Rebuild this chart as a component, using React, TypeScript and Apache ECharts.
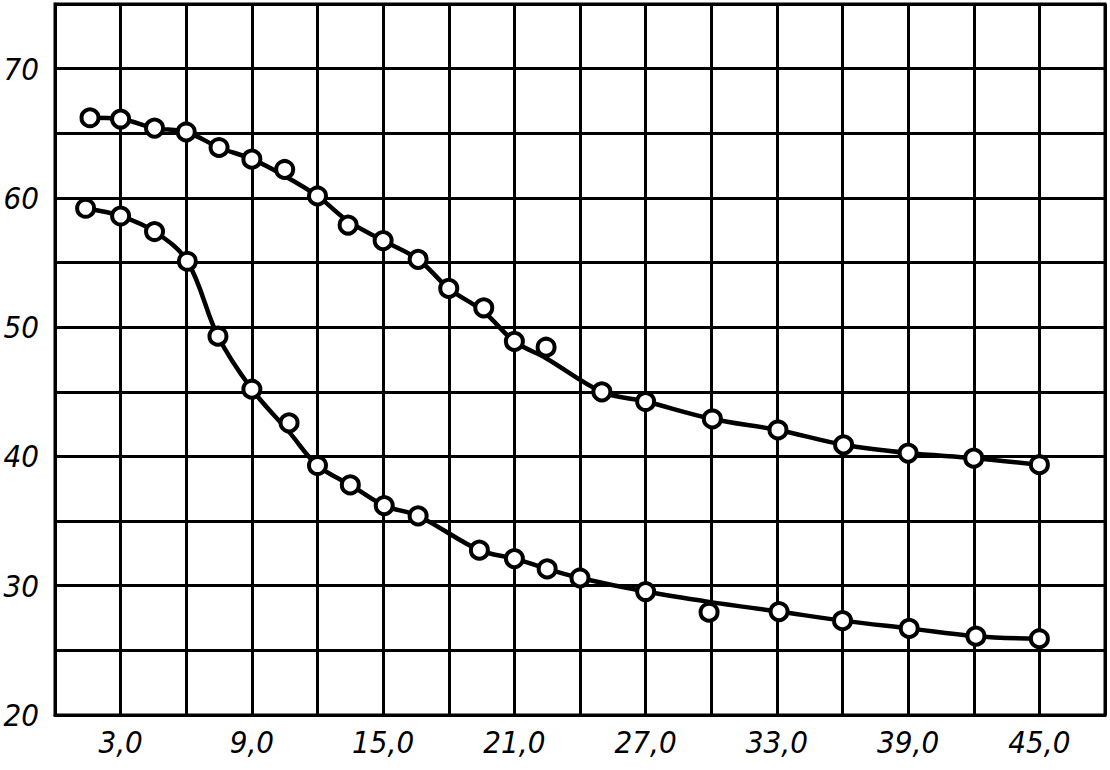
import React, { useEffect, useRef } from "react";
import * as echarts from "echarts";

// Measured points (markers)
const upperX = [1.6, 3.0, 4.55, 6.0, 7.5, 9.0, 10.5, 12.0, 13.4, 15.0, 16.6, 18.0, 19.6, 21.0, 22.45, 25.0, 27.0, 30.05, 33.05, 36.05, 39.0, 42.0, 45.0];
const upperY = [66.2, 66.1, 65.4, 65.1, 63.9, 63.0, 62.2, 60.15, 57.9, 56.7, 55.25, 53.0, 51.5, 48.9, 48.45, 45.0, 44.25, 42.9, 42.05, 40.9, 40.26, 39.87, 39.36];

const lowerX = [1.4, 3.0, 4.55, 6.05, 7.45, 9.0, 10.7, 12.0, 13.5, 15.05, 16.6, 19.4, 21.0, 22.5, 24.0, 27.0, 29.9, 33.1, 36.0, 39.05, 42.1, 45.0];
const lowerY = [59.2, 58.6, 57.4, 55.1, 49.3, 45.2, 42.6, 39.3, 37.8, 36.2, 35.4, 32.75, 32.1, 31.3, 30.6, 29.55, 27.95, 28.0, 27.3, 26.7, 26.1, 25.9];

// Nodes of the drawn (fitted) curves
const upperCurveX = [1.6, 3.0, 4.55, 6.0, 7.5, 9.0, 10.5, 12.0, 13.4, 15.0, 16.6, 18.0, 19.6, 21.0, 22.45, 25.0, 27.0, 30.05, 33.05, 36.05, 39.0, 42.0, 45.0];
const upperCurveY = [66.2, 66.1, 65.4, 65.1, 63.9, 63.0, 61.7, 60.15, 58.2, 56.7, 55.25, 53.0, 51.2, 48.9, 47.6, 45.0, 44.25, 42.9, 42.05, 40.9, 40.26, 39.87, 39.36];

const lowerCurveX = [1.4, 3.0, 4.55, 6.05, 7.45, 9.0, 10.7, 12.0, 13.5, 15.05, 16.6, 19.4, 21.0, 22.5, 24.0, 27.0, 29.9, 33.1, 36.0, 39.05, 42.1, 45.0];
const lowerCurveY = [59.2, 58.6, 57.4, 55.1, 49.3, 45.2, 41.9, 39.3, 37.8, 36.2, 35.4, 32.75, 32.1, 31.3, 30.6, 29.55, 28.75, 28.0, 27.3, 26.7, 26.1, 25.9];

// Tick labels
const xLabelValues = [3, 9, 15, 21, 27, 33, 39, 45];
const xLabelTexts = ["3,0", "9,0", "15,0", "21,0", "27,0", "33,0", "39,0", "45,0"];
const yLabelValues = [20, 30, 40, 50, 60, 70];
const yLabelTexts = ["20", "30", "40", "50", "60", "70"];

const zip = (xs: number[], ys: number[]) => xs.map((x, i) => [x, ys[i]]);

const FONT = "'DejaVu Sans Condensed', 'DejaVu Sans', sans-serif";

export default function App() {
  const ref = useRef<HTMLDivElement>(null);
  useEffect(() => {
    if (!ref.current) return;
    const chart = echarts.init(ref.current, null, { renderer: "svg" });
    const lineStyle = { color: "#000", width: 4.5 };
    const markerStyle = { color: "#fff", borderColor: "#000", borderWidth: 4, opacity: 1 };
    chart.setOption({
      animation: false,
      backgroundColor: "#fff",
      grid: {
        left: 55,
        right: 5,
        top: 4,
        bottom: 55,
        show: true,
        borderColor: "#000",
        borderWidth: 3,
        backgroundColor: "transparent",
      },
      xAxis: {
        type: "value",
        min: 0,
        max: 48,
        interval: 3,
        axisLine: { show: true, lineStyle: { color: "#000", width: 3 } },
        axisTick: { show: false },
        splitLine: { show: true, lineStyle: { color: "#000", width: 3 } },
        axisLabel: {
          margin: 11,
          color: "#000",
          fontSize: 31,
          fontStyle: "italic",
          fontFamily: FONT,
          formatter: (v: number) => {
            const i = xLabelValues.indexOf(v);
            return i >= 0 ? xLabelTexts[i] : "";
          },
        },
      },
      yAxis: {
        type: "value",
        min: 20,
        max: 75,
        interval: 5,
        axisLine: { show: true, lineStyle: { color: "#000", width: 3 } },
        axisTick: { show: false },
        splitLine: { show: true, lineStyle: { color: "#000", width: 3 } },
        axisLabel: {
          margin: 16,
          color: "#000",
          fontSize: 31,
          fontStyle: "italic",
          fontFamily: FONT,
          formatter: (v: number) => {
            const i = yLabelValues.indexOf(v);
            return i >= 0 ? yLabelTexts[i] : "";
          },
        },
      },
      series: [
        {
          type: "line",
          data: zip(upperCurveX, upperCurveY),
          smooth: 0.35,
          showSymbol: false,
          lineStyle,
          z: 2,
        },
        {
          type: "line",
          data: zip(lowerCurveX, lowerCurveY),
          smooth: 0.35,
          showSymbol: false,
          lineStyle,
          z: 2,
        },
        {
          type: "scatter",
          data: zip(upperX, upperY),
          symbol: "circle",
          symbolSize: 17,
          itemStyle: markerStyle,
          z: 3,
        },
        {
          type: "scatter",
          data: zip(lowerX, lowerY),
          symbol: "circle",
          symbolSize: 17,
          itemStyle: markerStyle,
          z: 3,
        },
      ],
    });
    return () => chart.dispose();
  }, []);
  return (
    <div
      ref={ref}
      style={{ position: "absolute", left: 0, top: 0, width: 1110, height: 770, background: "#fff" }}
    />
  );
}
